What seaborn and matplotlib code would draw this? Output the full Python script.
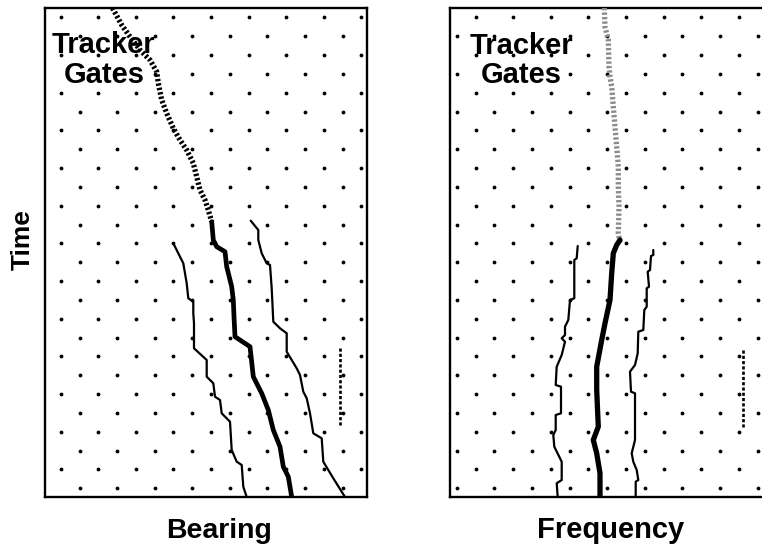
import numpy as np
import pandas as pd
import matplotlib
matplotlib.use("Agg")
import matplotlib.pyplot as plt
import seaborn as sns

sns.set_style("white")
plt.rcParams['font.family'] = ['Liberation Sans', 'DejaVu Sans']
plt.rcParams['text.color'] = 'black'

# ---------------- data (x: bearing / frequency offset, y: time from top) -------------
bearing_hist_x = [67.5, 76.7, 85, 95, 105, 111.7, 113.3, 116.7, 121.7, 128.3, 135, 141.7,
                  148.3, 151.7, 155, 160, 163.3, 166.7]
bearing_hist_t = [0, 17, 28.7, 42, 52, 63.7, 75.3, 92, 105.3, 120.3, 132, 142,
                  155.3, 168.7, 182, 192, 202, 213.7]

bearing_track_x = [166.7, 168.3, 171.7, 180, 181.7, 186.7, 188.3, 189, 190, 205, 208.3,
                   216.7, 223.3, 228.3, 235, 238.3, 243.3, 246.7]
bearing_track_t = [213.7, 232, 238.7, 243.7, 258.7, 278.7, 292, 308.7, 328.7, 338.7, 368.7,
                   385.3, 402, 422, 438.7, 458.7, 468.7, 489]

bearing_gate_lo_x = [128.3, 138.3, 141.7, 143.3, 148.3, 148.3, 149, 149, 161.7, 161.7, 168.3,
                     170, 175, 176.7, 185, 186.7, 191.7, 196.7, 198.3, 201.7]
bearing_gate_lo_t = [235.3, 255.3, 275.3, 290.3, 293.7, 305.3, 315.3, 340.3, 352, 368.7, 375.3,
                     388.7, 392, 405.3, 413.7, 442, 453.7, 457, 478.7, 489]

bearing_gate_hi_x = [205.7, 213.3, 213.3, 216.7, 221.7, 225, 226.7, 228.3, 235, 241.7, 241.7,
                     251.7, 255, 258.3, 261.7, 265, 268.3, 276.7, 278.3, 288.3, 300]
bearing_gate_hi_t = [212.7, 222, 232, 245.3, 255.3, 257, 280.3, 313.7, 320.3, 325.3, 343.7,
                     360.3, 367, 383.7, 390.3, 405.3, 425.3, 430.3, 453.7, 470.3, 489]

bearing_mark_x = [295, 295]
bearing_mark_t = [340.3, 417]

freq_hist_x = [154.3, 155, 158.3, 159, 160, 161.7, 163.3, 165, 166.7, 168.3, 168.3, 169,
               168.3, 170]
freq_hist_t = [0, 18.7, 32, 58.7, 68.7, 78.7, 98.7, 118.7, 138.7, 158.7, 178.7, 198.7,
               225.3, 235.3]

freq_track_x = [170, 166.7, 163.3, 161.7, 160, 155, 151.7, 146.7, 146.7, 147.7, 148.3,
                143.3, 146.7, 150, 150]
freq_track_t = [232, 237, 245.3, 265.3, 292, 315.3, 332, 358.7, 382, 405.3, 418.7,
                432, 445.3, 465.3, 489]

freq_gate_lo_x = [127.7, 126.7, 124.3, 124.3, 120, 118.3, 115, 115, 111.7, 115, 111.7, 106.7,
                  105.7, 111, 111, 105.7, 105.7, 103.3, 104.3, 111.7, 111.7, 106.7, 107.7]
freq_gate_lo_t = [238, 250.3, 252, 290.3, 292, 312, 318.7, 327, 330.3, 333.7, 347, 358.7,
                  377, 378.7, 405.3, 407, 422, 427, 438.7, 453.7, 472, 475.3, 489]

freq_gate_hi_x = [203.3, 203.3, 201, 200, 197.7, 199, 196.7, 196.7, 194.3, 193.3, 188.3, 187.7,
                  185, 180, 181, 185, 185, 181.7, 183.3, 186.7, 188.3, 185.7, 185.7]
freq_gate_hi_t = [242, 247, 248, 262, 263.7, 278.7, 280.3, 298.7, 302, 322, 323.7, 345.3,
                  357, 363.7, 383.7, 385.3, 432, 445.3, 453.7, 462, 472, 473.7, 489]

freq_mark_x = [292.7, 292.7]
freq_mark_t = [342, 418.7]

x_labels = ["Bearing", "Frequency"]
y_label = "Time"
annotation = ["Tracker", "Gates"]

# ---------------- layout ----------------
W, H = 762, 546
fig = plt.figure(figsize=(W / 100, H / 100), dpi=100)
ax_w, ax_h = 322, 489
axL = fig.add_axes([45 / W, (H - 497) / H, ax_w / W, ax_h / H])
axR = fig.add_axes([450 / W, (H - 497) / H, ax_w / W, ax_h / H])

row_step, col_step = 18.84, 37.6
n_rows = 26
row_y0 = 9.3


def dot_grid(x_even):
    xs, ys = [], []
    for r in range(n_rows):
        y = row_y0 + r * row_step
        x0 = x_even if r % 2 == 0 else x_even + col_step / 2
        x0 = x0 % col_step
        x = x0
        while x < ax_w:
            xs.append(x)
            ys.append(y)
            x += col_step
    return pd.DataFrame({"x": xs, "y": ys})


def line(ax, xs, ts, **kw):
    df = pd.DataFrame({"x": xs, "t": ts})
    sns.lineplot(data=df, x="x", y="t", sort=False, estimator=None, ax=ax, **kw)


for ax, x_even in ((axL, 15.7), (axR, 25.7)):
    g = dot_grid(x_even)
    sns.scatterplot(data=g, x="x", y="y", ax=ax, s=7.5, color="black",
                    linewidth=0, zorder=1)

line(axL, bearing_hist_x, bearing_hist_t, color="black", lw=3.8,
     linestyle=(0, (0.45, 0.4)), zorder=3)
line(axL, bearing_track_x, bearing_track_t, color="black", lw=3.4, zorder=3)
line(axL, bearing_gate_lo_x, bearing_gate_lo_t, color="black", lw=1.6, zorder=3)
line(axL, bearing_gate_hi_x, bearing_gate_hi_t, color="black", lw=1.6, zorder=3)
line(axL, bearing_mark_x, bearing_mark_t, color="black", lw=1.9,
     linestyle=(0, (1.2, 0.8)), zorder=3)

line(axR, freq_hist_x, freq_hist_t, color="#8c8c8c", lw=3.8,
     linestyle=(0, (0.45, 0.4)), zorder=3)
line(axR, freq_track_x, freq_track_t, color="black", lw=3.8, zorder=3)
line(axR, freq_gate_lo_x, freq_gate_lo_t, color="black", lw=1.6, zorder=3)
line(axR, freq_gate_hi_x, freq_gate_hi_t, color="black", lw=1.6, zorder=3)
line(axR, freq_mark_x, freq_mark_t, color="black", lw=1.9,
     linestyle=(0, (1.2, 0.8)), zorder=3)

text_pos = {axL: ((58.4, 45.0), (59.2, 75.3)), axR: ((71.7, 46.5), (70.8, 75.3))}
for ax in (axL, axR):
    ax.set_xlim(0, ax_w)
    ax.set_ylim(ax_h, 0)
    ax.set_xticks([])
    ax.set_yticks([])
    ax.set_xlabel("")
    ax.set_ylabel("")
    for sp in ax.spines.values():
        sp.set_visible(True)
        sp.set_color("black")
        sp.set_linewidth(1.7)
    (x1, y1), (x2, y2) = text_pos[ax]
    ax.text(x1, y1, annotation[0], ha="center", va="baseline", fontsize=21,
            fontweight="bold", color="black", zorder=5)
    ax.text(x2, y2, annotation[1], ha="center", va="baseline", fontsize=21,
            fontweight="bold", color="black", zorder=5)

fig.text(219 / W, (H - 538) / H, x_labels[0], ha="center", va="baseline",
         fontsize=20.5, fontweight="bold", color="black")
fig.text(611 / W, (H - 538) / H, x_labels[1], ha="center", va="baseline",
         fontsize=21, fontweight="bold", color="black")
fig.text(23 / W, (H - 240) / H, y_label, ha="center", va="center", rotation=90,
         fontsize=19, fontweight="bold", color="black")

fig.savefig("out.png", dpi=100)
